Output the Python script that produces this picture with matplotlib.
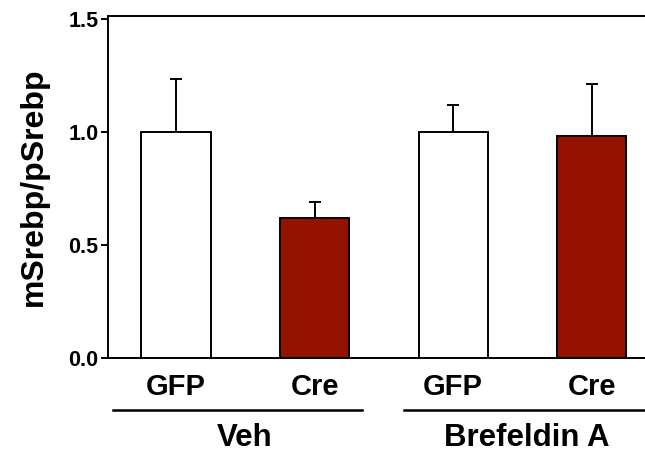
import matplotlib
matplotlib.use("Agg")
import matplotlib.pyplot as plt
import matplotlib.transforms as mtransforms

# data
categories = ["GFP", "Cre", "GFP", "Cre"]
means = [1.0, 0.62, 1.0, 0.98]
sem = [0.235, 0.07, 0.12, 0.23]
groups = ["Veh", "Brefeldin A"]
bar_colors = ["white", "#941200", "white", "#941200"]

plt.rcParams['font.family'] = ['Liberation Sans', 'DejaVu Sans']
plt.rcParams['font.weight'] = 'bold'

fig = plt.figure(figsize=(6.45, 4.59), dpi=100)
ax = fig.add_axes([108 / 645, 101 / 459, 1 - 108 / 645, 342 / 459])

x = list(range(len(categories)))
ax.bar(x, means, width=0.5, color=bar_colors, edgecolor="black", linewidth=1.4, zorder=2)
ax.errorbar(x, means, yerr=[[0] * len(sem), sem], fmt="none", ecolor="black",
            elinewidth=1.4, capsize=4, capthick=1.4, zorder=1)

ax.set_xlim(-0.49, 3.384)
ax.set_ylim(0, 1.513)
ax.set_yticks([0, 0.5, 1.0, 1.5])
ax.set_yticklabels(["0.0", "0.5", "1.0", "1.5"])
ax.set_xticks(x)
ax.set_xticklabels(categories, fontsize=21, fontweight="bold")
ax.tick_params(axis="x", length=0, pad=11)
ax.tick_params(axis="y", length=5, width=1.4, labelsize=15.5, pad=2)
for lbl in ax.get_yticklabels():
    lbl.set_fontweight("bold")

ax.spines["right"].set_visible(False)
for s in ["left", "top", "bottom"]:
    ax.spines[s].set_linewidth(1.4)

ax.set_ylabel("mSrebp/pSrebp", fontsize=23, fontweight="bold", labelpad=14)

# group underlines and labels below the axis
trans = mtransforms.blended_transform_factory(ax.transData, ax.transAxes)
group_spans = [(-0.455, 1.342), (1.645, 3.384)]
for (x0, x1), name in zip(group_spans, groups):
    ax.plot([x0, x1], [-0.152, -0.152], color="black", lw=1.8,
            transform=trans, clip_on=False)
label_x = [0.498, 2.532]
for lx, name in zip(label_x, groups):
    ax.text(lx, -0.234, name, transform=trans, ha="center", va="center",
            fontsize=22.5, fontweight="bold")

fig.savefig("out.png", dpi=100)
